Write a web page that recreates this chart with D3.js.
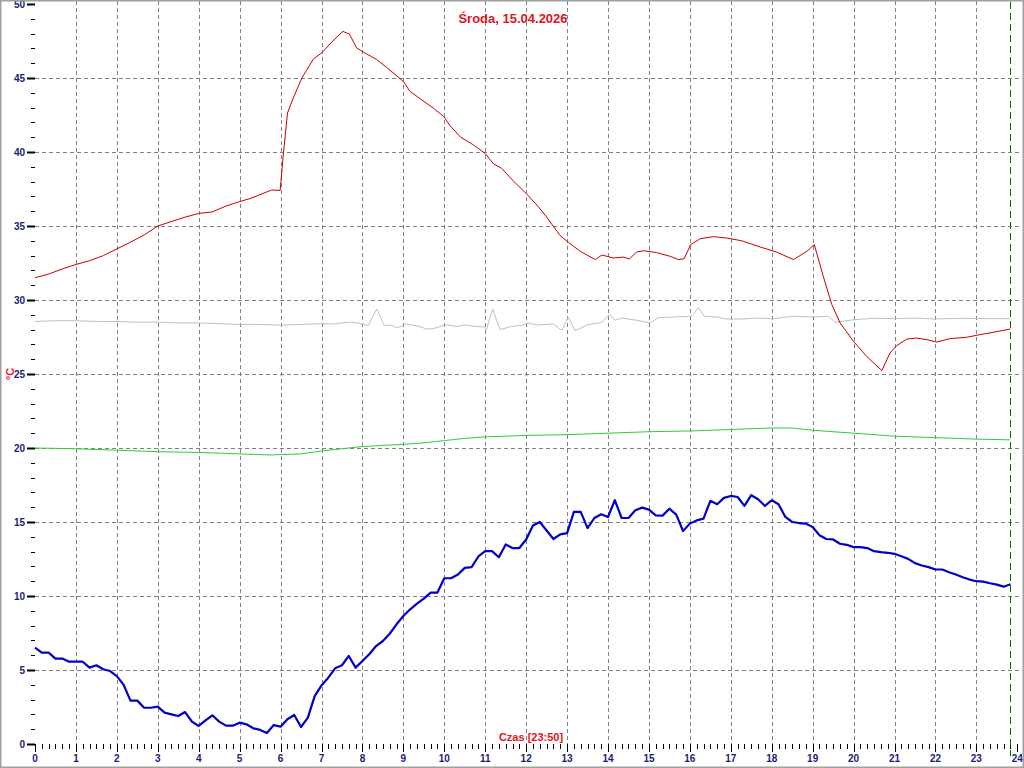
<!DOCTYPE html>
<html><head><meta charset="utf-8">
<script src="https://cdn.jsdelivr.net/npm/d3@7"></script>
<style>html,body{margin:0;padding:0;background:#fff;}svg{display:block;}</style>
</head><body>
<svg id="c" width="1024" height="768"></svg>
<script>
// ---- data ----
const title = "Środa, 15.04.2026";
const xTitle = "Czas [23:50]";
const yTitle = "°C";
const xTicks = d3.range(0, 25);
const yTicks = [0,5,10,15,20,25,30,35,40,45,50];
const nowHour = 23 + 50/60;

// blue: 10-minute samples from 0:00 to 23:50
const blueValues = [
 6.51,6.17,6.17,5.77,5.77,5.56, 5.56,5.56,5.16,5.32,5.05,4.93,
 4.59,3.99,2.93,2.93,2.45,2.45, 2.52,2.12,2.00,1.89,2.16,1.51,
 1.22,1.60,1.94,1.51,1.24,1.24, 1.44,1.33,1.06,0.95,0.74,1.28,
 1.17,1.67,1.96,1.15,1.78,3.24, 3.96,4.48,5.11,5.32,5.95,5.16,
 5.61,6.06,6.62,6.96,7.45,8.09, 8.65,9.10,9.48,9.82,10.23,10.23,
 11.20,11.20,11.45,11.90,11.95,12.67, 13.03,13.03,12.62,13.48,13.24,13.24,
 13.82,14.77,15.00,14.43,13.85,14.16, 14.25,15.68,15.68,14.59,15.27,15.52,
 15.34,16.47,15.27,15.27,15.79,15.97, 15.84,15.45,15.43,15.90,15.50,14.39,
 14.89,15.11,15.23,16.43,16.20,16.63, 16.76,16.69,16.09,16.81,16.54,16.09,
 16.47,16.20,15.34,15.00,14.93,14.89, 14.66,14.10,13.85,13.82,13.53,13.46,
 13.30,13.30,13.24,13.03,12.96,12.92, 12.85,12.69,12.51,12.22,12.06,11.95,
 11.79,11.79,11.61,11.45,11.27,11.11, 11.00,10.97,10.86,10.77,10.63,10.79
];
const blueHours = blueValues.map((v, i) => i / 6);

const redHours = [0,0.33,0.67,1,1.33,1.67,2,2.33,2.67,3,3.33,3.67,4,4.33,4.67,5,5.25,5.5,5.78,5.99,
 6.07,6.17,6.31,6.52,6.8,7,7.25,7.52,7.68,7.86,8.02,8.35,8.59,9,9.16,9.41,9.73,9.98,10.14,10.4,
 10.7,11,11.2,11.4,11.7,12,12.3,12.5,12.83,13.03,13.32,13.69,13.85,14.13,14.38,14.52,14.7,14.87,
 15.19,15.52,15.72,15.86,16.02,16.25,16.58,16.9,17.27,17.72,18.12,18.53,18.86,19.04,19.26,19.47,
 19.67,20,20.32,20.69,20.89,21.05,21.3,21.54,21.79,22.03,22.36,22.76,23.09,23.42,23.83];
const redValues = [31.5,31.75,32.1,32.4,32.65,33.0,33.45,33.9,34.4,35.0,35.3,35.6,35.85,35.95,36.35,36.65,36.85,37.12,37.43,37.41,
 39.93,42.64,43.65,45.0,46.28,46.69,47.43,48.15,47.97,47.03,46.76,46.24,45.72,44.77,44.1,43.6,42.97,42.41,41.78,41.0,
 40.5,39.9,39.2,38.9,38.0,37.2,36.3,35.6,34.35,33.9,33.29,32.73,33.04,32.84,32.9,32.77,33.24,33.33,
 33.2,32.95,32.73,32.79,33.74,34.14,34.28,34.19,34.0,33.58,33.24,32.73,33.29,33.74,31.6,29.68,
 28.45,27.2,26.19,25.23,26.42,26.91,27.36,27.43,27.32,27.16,27.39,27.48,27.66,27.82,28.04];

const grayHours = [0,0.5,1,1.5,2,2.5,3,3.5,4,4.5,5,5.5,6,6.5,6.96,7.29,7.7,7.98,8.14,8.35,8.53,8.71,8.85,9.04,9.32,9.57,9.73,
 10.02,10.3,10.5,10.75,10.97,11.03,11.18,11.36,11.65,11.89,12.05,12.26,12.66,12.87,13.03,13.19,13.31,13.48,13.85,
 14.04,14.17,14.34,14.7,15.03,15.23,15.6,16.05,16.21,16.35,16.66,16.86,17.31,17.63,18.04,18.53,19.02,19.39,19.55,
 20,20.48,21.05,21.46,21.95,22.6,23.25,23.83];
const grayValues = [28.55,28.6,28.6,28.55,28.55,28.5,28.5,28.45,28.45,28.4,28.35,28.35,28.3,28.35,28.4,28.38,28.51,28.4,28.27,29.39,28.29,28.29,28.11,28.38,28.27,28.04,28.06,
 28.33,28.22,28.31,28.22,28.18,28.0,29.39,28.0,28.22,28.29,28.45,28.31,28.38,27.95,28.85,27.95,28.06,28.31,28.49,
 29.03,28.63,28.78,28.63,28.45,28.81,28.85,28.9,29.5,28.9,28.85,28.72,28.72,28.78,28.74,28.9,28.85,28.9,28.49,
 28.67,28.76,28.74,28.78,28.72,28.76,28.74,28.74];

const greenHours = [0,1,2,3,4,5,5.75,6.5,7,7.5,8,9,9.5,10,10.5,11,12,13,14,15,16,17,18,18.5,19,20,21,22,23,23.83];
const greenValues = [20.0,19.95,19.85,19.75,19.7,19.6,19.53,19.6,19.8,19.95,20.1,20.25,20.35,20.5,20.65,20.75,20.85,20.9,21.0,21.1,21.15,21.25,21.35,21.35,21.2,21.0,20.8,20.7,20.6,20.55];

// ---- drawing ----
const svg = d3.select("#c");
const x = d3.scaleLinear().domain([0, 24]).range([35, 1017.3]);
const y = d3.scaleLinear().domain([0, 50]).range([744, 4]);
const navy = "#1c1c78";

// grid
const g = svg.append("g").attr("stroke", "#808080").attr("stroke-dasharray", "4,3").attr("stroke-width", 1);
g.selectAll("line.v").data(xTicks.filter(d => d > 0 && d < 24)).join("line")
  .attr("x1", d => Math.round(x(d)) + 0.5).attr("x2", d => Math.round(x(d)) + 0.5)
  .attr("y1", 1).attr("y2", y(0));
g.selectAll("line.h").data(yTicks.filter(d => d > 0 && d < 50)).join("line")
  .attr("y1", d => Math.round(y(d)) + 0.5).attr("y2", d => Math.round(y(d)) + 0.5)
  .attr("x1", x(0)).attr("x2", 1020);

// axes
const yAxis = d3.axisLeft(y).tickValues(d3.range(0, 51)).tickSize(0).tickFormat("");
const ya = svg.append("g").attr("transform", `translate(${x(0)},0)`);
ya.selectAll("line").data(d3.range(0, 51)).join("line")
  .attr("x1", d => d % 5 === 0 ? -8 : -4).attr("x2", 0)
  .attr("y1", d => Math.round(y(d)) + 0.5).attr("y2", d => Math.round(y(d)) + 0.5)
  .attr("stroke", "#000").attr("stroke-width", d => d % 5 === 0 ? 2 : 1);
ya.selectAll("text").data(yTicks).join("text")
  .attr("x", -10).attr("y", d => y(d) + 3.5).attr("text-anchor", "end")
  .attr("font-family", "Liberation Sans, Arial, sans-serif").attr("font-size", 10).attr("font-weight", "bold")
  .attr("fill", navy).text(d => d);

const xMinor = d3.range(0, 24 * 6 + 1).map(i => i / 6);
const xa = svg.append("g").attr("transform", `translate(0,${y(0)})`);
xa.selectAll("line").data(xMinor).join("line")
  .attr("x1", d => Math.round(x(d)) + 0.5).attr("x2", d => Math.round(x(d)) + 0.5)
  .attr("y1", 0).attr("y2", (d, i) => i % 6 === 0 ? 8 : 5)
  .attr("stroke", "#000").attr("stroke-width", 1);
xa.selectAll("text").data(xTicks).join("text")
  .attr("x", d => x(d)).attr("y", 18).attr("text-anchor", "middle")
  .attr("font-family", "Liberation Sans, Arial, sans-serif").attr("font-size", 10).attr("font-weight", "bold")
  .attr("fill", navy).text(d => d);

// series
const line = d3.line().x(d => x(d[0])).y(d => y(d[1]));
const zip = (a, b) => a.map((v, i) => [v, b[i]]);
svg.append("path").datum(zip(grayHours, grayValues)).attr("d", line)
  .attr("fill", "none").attr("stroke", "#c0c0c0").attr("stroke-width", 1);
svg.append("path").datum(zip(greenHours, greenValues)).attr("d", line)
  .attr("fill", "none").attr("stroke", "#33cc33").attr("stroke-width", 1);
svg.append("path").datum(zip(redHours, redValues)).attr("d", line)
  .attr("fill", "none").attr("stroke", "#c80000").attr("stroke-width", 1);
svg.append("path").datum(zip(blueHours, blueValues)).attr("d", line)
  .attr("fill", "none").attr("stroke", "#0000c8").attr("stroke-width", 2.2).attr("stroke-linejoin", "round");

// now line
svg.append("line").attr("x1", Math.round(x(nowHour)) + 0.5).attr("x2", Math.round(x(nowHour)) + 0.5)
  .attr("y1", 2).attr("y2", y(0) + 12).attr("stroke", "#007000").attr("stroke-width", 1)
  .attr("stroke-dasharray", "7,4");

// titles
svg.append("text").attr("x", 513).attr("y", 23).attr("text-anchor", "middle")
  .attr("font-family", "Liberation Sans, Arial, sans-serif").attr("font-size", 13).attr("font-weight", "bold")
  .attr("fill", "#e0141c").text(title);
svg.append("text").attr("x", 531).attr("y", 741).attr("text-anchor", "middle")
  .attr("font-family", "Liberation Sans, Arial, sans-serif").attr("font-size", 11).attr("font-weight", "bold")
  .attr("fill", "#e0141c").text(xTitle);
svg.append("text").attr("transform", "translate(14,374) rotate(-90)").attr("text-anchor", "middle")
  .attr("font-family", "Liberation Sans, Arial, sans-serif").attr("font-size", 11).attr("font-weight", "bold")
  .attr("fill", "#e0141c").text(yTitle);

// frame
svg.append("rect").attr("x", 0.5).attr("y", 0.5).attr("width", 1023).attr("height", 767)
  .attr("fill", "none").attr("stroke", "#a0a0a0").attr("stroke-width", 2);
</script>
</body></html>
